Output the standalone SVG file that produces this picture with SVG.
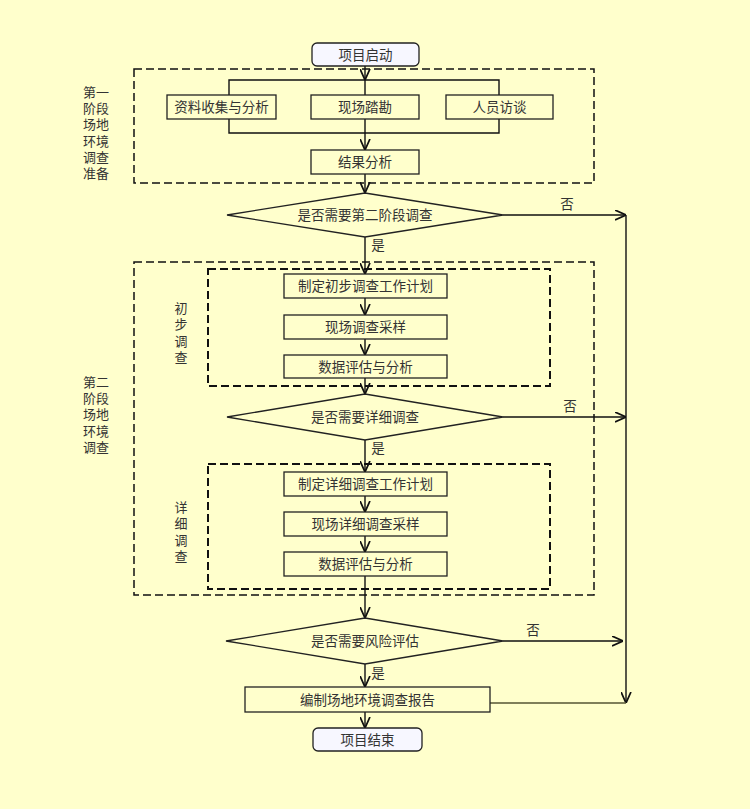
<svg xmlns="http://www.w3.org/2000/svg" width="750" height="809" viewBox="0 0 750 809">
<style>
text{font-family:"Liberation Serif","Noto Sans CJK SC",serif;fill:#333;font-size:13.5px;text-anchor:middle}
.lbl{font-size:13px}
.box{fill:#FFFFCC;stroke:#222;stroke-width:1.3}
.term{fill:#F7F7FF;stroke:#222;stroke-width:1.3}
.dash1{fill:none;stroke:#111;stroke-width:1.5;stroke-dasharray:8 4}
.dash2{fill:none;stroke:#111;stroke-width:2;stroke-dasharray:8 4}
.ln{fill:none;stroke:#111;stroke-width:1.4}
.arr{fill:none;stroke:#111;stroke-width:1.4;marker-end:url(#ah)}
</style>
<defs>
<marker id="ah" viewBox="0 0 10 10" refX="10" refY="5" markerWidth="11" markerHeight="11" markerUnits="userSpaceOnUse" orient="auto">
<path d="M0,0.5 L10,5 L0,9.5" fill="none" stroke="#111" stroke-width="1.6"/>
</marker>
</defs>
<rect x="0" y="0" width="750" height="809" fill="#FFFFCC"/>

<g id="phase1">
<rect class="dash1" x="134" y="69" width="460" height="114"/>
<text class="lbl" x="96" y="97">第一</text>
<text class="lbl" x="96" y="113">阶段</text>
<text class="lbl" x="96" y="129">场地</text>
<text class="lbl" x="96" y="146">环境</text>
<text class="lbl" x="96" y="162">调查</text>
<text class="lbl" x="96" y="178">准备</text>
</g>
<g id="phase2">
<rect class="dash1" x="134" y="262" width="460" height="333"/>
<text class="lbl" x="96" y="387">第二</text>
<text class="lbl" x="96" y="403">阶段</text>
<text class="lbl" x="96" y="419">场地</text>
<text class="lbl" x="96" y="436">环境</text>
<text class="lbl" x="96" y="452">调查</text>
</g>
<g id="prelim">
<rect class="dash2" x="208" y="269" width="342" height="117"/>
<text class="lbl" x="181" y="313">初</text>
<text class="lbl" x="181" y="329">步</text>
<text class="lbl" x="181" y="346">调</text>
<text class="lbl" x="181" y="362">查</text>
</g>
<g id="detail">
<rect class="dash2" x="208" y="464" width="342" height="125"/>
<text class="lbl" x="181" y="512">详</text>
<text class="lbl" x="181" y="528">细</text>
<text class="lbl" x="181" y="545">调</text>
<text class="lbl" x="181" y="561">查</text>
</g>

<g id="connectors">
<path class="arr" d="M365,66 V80"/>
<path class="ln" d="M229,95 V80 H499 V95 M365,80 V95"/>
<path class="ln" d="M229,119 V133 H499 V119"/>
<path class="arr" d="M365,119 V150"/>
<path class="arr" d="M365,174 V193"/>
<path class="arr" d="M503,215 H626"/>
<path class="arr" d="M365,237 V274"/>
<path class="arr" d="M365,298 V315"/>
<path class="arr" d="M365,339 V355"/>
<path class="arr" d="M365,378 V394"/>
<path class="arr" d="M503,417 H626"/>
<path class="arr" d="M365,440 V472"/>
<path class="arr" d="M365,496 V512"/>
<path class="arr" d="M365,536 V552"/>
<path class="arr" d="M365,576 V618"/>
<path class="arr" d="M503,641 H623"/>
<path class="arr" d="M365,664 V687"/>
<path class="arr" d="M365,712 V728"/>
<path class="arr" d="M626,215 V703"/>
<path d="M490,703 H626" fill="none" stroke="#555533" stroke-width="1.3"/>
<text x="567" y="209">否</text>
<text x="570" y="411">否</text>
<text x="533" y="635">否</text>
<text x="378" y="250">是</text>
<text x="378" y="453">是</text>
<text x="378" y="678">是</text>
</g>

<g id="start"><rect class="term" x="312" y="43" width="107" height="23" rx="5"/><text x="365.5" y="59.5">项目启动</text></g>
<g id="n-ziliao"><rect class="box" x="167" y="95" width="109" height="24"/><text x="221.5" y="112">资料收集与分析</text></g>
<g id="n-xianchang"><rect class="box" x="311" y="95" width="108" height="24"/><text x="365" y="112">现场踏勘</text></g>
<g id="n-renyuan"><rect class="box" x="446" y="95" width="107" height="24"/><text x="499.5" y="112">人员访谈</text></g>
<g id="n-jieguo"><rect class="box" x="311" y="150" width="108" height="24"/><text x="365" y="167">结果分析</text></g>
<g id="d1"><polygon class="box" points="227,215 365,193 503,215 365,237"/><text x="365" y="220">是否需要第二阶段调查</text></g>
<g id="n-p1"><rect class="box" x="284" y="274" width="163" height="24"/><text x="365.5" y="291">制定初步调查工作计划</text></g>
<g id="n-p2"><rect class="box" x="284" y="315" width="163" height="24"/><text x="365.5" y="332">现场调查采样</text></g>
<g id="n-p3"><rect class="box" x="284" y="355" width="163" height="23"/><text x="365.5" y="371.5">数据评估与分析</text></g>
<g id="d2"><polygon class="box" points="227,417 365,394 503,417 365,440"/><text x="365" y="422">是否需要详细调查</text></g>
<g id="n-q1"><rect class="box" x="284" y="472" width="163" height="24"/><text x="365.5" y="489">制定详细调查工作计划</text></g>
<g id="n-q2"><rect class="box" x="284" y="512" width="163" height="24"/><text x="365.5" y="529">现场详细调查采样</text></g>
<g id="n-q3"><rect class="box" x="284" y="552" width="163" height="24"/><text x="365.5" y="569">数据评估与分析</text></g>
<g id="d3"><polygon class="box" points="226,641 365,618 503,641 365,664"/><text x="365" y="646">是否需要风险评估</text></g>
<g id="n-report"><rect class="box" x="245" y="687" width="245" height="25"/><text x="367.5" y="704.5">编制场地环境调查报告</text></g>
<g id="end"><rect class="term" x="313" y="728" width="109" height="23" rx="5"/><text x="367.5" y="744.5">项目结束</text></g>
</svg>
